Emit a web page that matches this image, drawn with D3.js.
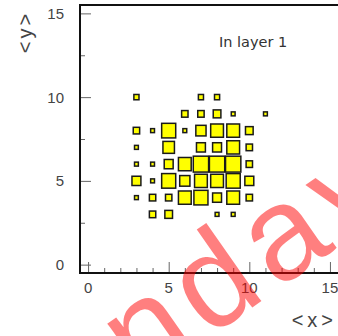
<!DOCTYPE html>
<html>
<head>
<meta charset="utf-8">
<script src="https://cdn.jsdelivr.net/npm/d3@7"></script>
<style>
  html, body { margin: 0; padding: 0; background: #fff; }
  svg { display: block; }
</style>
</head>
<body>
<svg id="chart" width="338" height="336"></svg>
<script>
// Bin centres along each axis
const xBins = [3, 4, 5, 6, 7, 8, 9, 10, 11];
const yBins = [10, 9, 8, 7, 6, 5, 4, 3];
// Bin contents, one row per yBins entry, one column per xBins entry (0 = empty)
const counts = [
  [4, 0, 0, 0, 4, 4, 0, 0, 0],
  [0, 0, 0, 5, 5, 6, 3, 0, 3],
  [5, 3, 11, 3, 8, 10, 10, 6, 0],
  [3, 0, 9, 0, 7, 7, 10, 5, 0],
  [3, 3, 7, 10, 12, 12, 12, 5, 0],
  [7, 3, 11, 8, 10, 10, 11, 7, 0],
  [3, 5, 5, 10, 11, 7, 10, 5, 0],
  [0, 5, 6, 0, 0, 3, 3, 0, 0]
];
const xTicks = [0, 5, 10, 15];
const yTicks = [0, 5, 10, 15];
const xTitle = "<x>";
const yTitle = "<y>";
const label = "In layer 1";
const stamp = "ndav";

const svg = d3.select("#chart");
const padL = 80, padR = 338, padT = 5, padB = 273;

const x = d3.scaleLinear().domain([-0.5, 15.5]).range([padL, padR]);
const y = d3.scaleLinear().domain([-0.5, 15.5]).range([padB, padT]);
const cw = x(1) - x(0), ch = y(0) - y(1);
const vmax = d3.max(counts.flat());
const size = d3.scaleLinear().domain([0, vmax]).range([0, 0.95]);

const font = "'Liberation Sans', Arial, Helvetica, sans-serif";

// boxes
const cells = [];
yBins.forEach((yb, i) => xBins.forEach((xb, j) => {
  if (counts[i][j] > 0) cells.push({ x: xb, y: yb, v: counts[i][j] });
}));
svg.append("g").selectAll("rect").data(cells).join("rect")
  .attr("x", d => x(d.x) - size(d.v) * cw / 2)
  .attr("y", d => y(d.y) - size(d.v) * ch / 2)
  .attr("width", d => size(d.v) * cw)
  .attr("height", d => size(d.v) * ch)
  .attr("fill", "#ffff00")
  .attr("stroke", "#1a1a1a")
  .attr("stroke-width", 1.5);

// bottom axis: ticks pointing into the frame
const xAxis = d3.axisBottom(x).tickValues(d3.range(0, 16, 1)).tickFormat("").tickSizeOuter(0)
  .tickSizeInner(-5);
const gx = svg.append("g").attr("transform", `translate(0,${padB})`).call(xAxis);
gx.selectAll(".tick line").attr("stroke", "#666")
  .attr("y2", d => xTicks.includes(d) ? -11 : -5);
gx.select(".domain").remove();
svg.append("g").selectAll("text").data(xTicks).join("text")
  .attr("x", d => x(d)).attr("y", 292.5)
  .attr("text-anchor", "middle")
  .attr("font-family", font).attr("font-size", 15).attr("fill", "#444")
  .text(d => d);

// left axis
const yAxis = d3.axisLeft(y).tickValues(d3.range(0, 15.01, 2.5)).tickFormat("").tickSizeOuter(0)
  .tickSizeInner(-5);
const gy = svg.append("g").attr("transform", `translate(${padL},0)`).call(yAxis);
gy.selectAll(".tick line").attr("stroke", "#666")
  .attr("x2", d => yTicks.includes(d) ? 11 : 5);
gy.select(".domain").remove();
svg.append("g").selectAll("text").data(yTicks).join("text")
  .attr("x", 64).attr("y", d => y(d) + 5.5)
  .attr("text-anchor", "end")
  .attr("font-family", font).attr("font-size", 15).attr("fill", "#444")
  .text(d => d);

// frame
svg.append("path")
  .attr("d", `M${padR + 2},${padT}H${padL}V${padB}H${padR + 2}`)
  .attr("fill", "none").attr("stroke", "#111").attr("stroke-width", 2);

// axis titles
svg.append("text").attr("x", 337).attr("y", 327).attr("text-anchor", "end")
  .attr("font-family", font).attr("font-size", 20).attr("fill", "#444")
  .attr("letter-spacing", 4)
  .text(xTitle);
svg.append("text").attr("transform", "translate(32,32) rotate(-90)")
  .attr("text-anchor", "middle")
  .attr("font-family", font).attr("font-size", 20).attr("fill", "#444")
  .attr("letter-spacing", 3)
  .text(yTitle);

// pad label
svg.append("text").attr("x", 219).attr("y", 47)
  .attr("font-family", "'DejaVu Sans', sans-serif").attr("font-size", 14.5).attr("fill", "#333")
  .text(label);

// stamp
svg.append("text").attr("transform", "translate(140,386) rotate(-35)")
  .attr("font-family", font).attr("font-size", 132)
  .attr("letter-spacing", 10)
  .attr("fill", "#ff0000").attr("fill-opacity", 0.5)
  .text(stamp);
</script>
</body>
</html>
